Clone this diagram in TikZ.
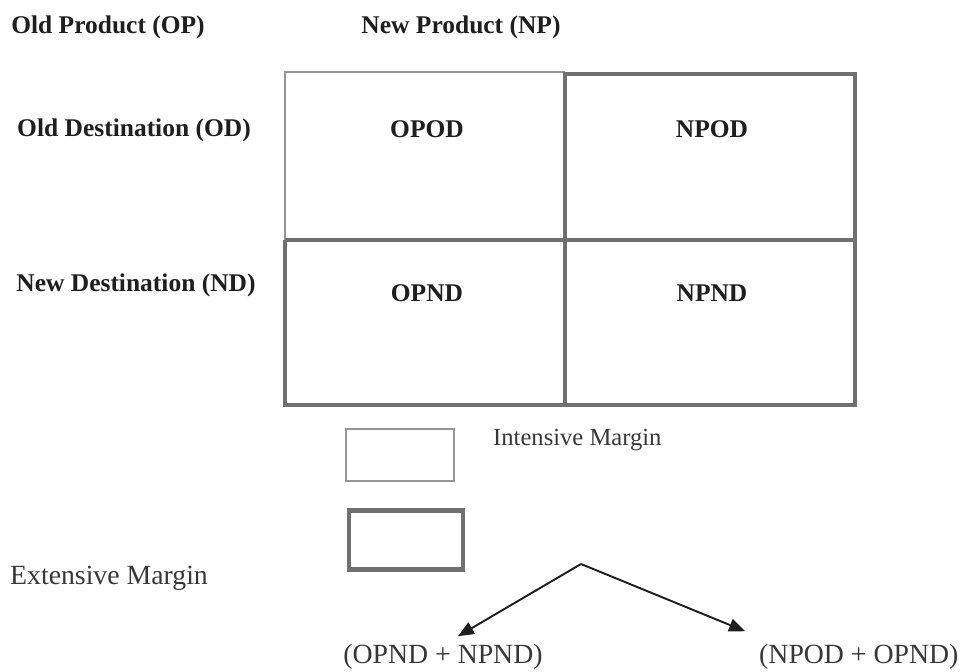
\documentclass[tikz,border=0pt]{standalone}
\usepackage{fontspec}
\setmainfont{Liberation Serif}
\usepackage{xcolor}
\usepackage{tikz}
\usetikzlibrary{shapes,arrows,positioning}
\definecolor{colorGy}{RGB}{112,112,112}
\definecolor{colorLt}{RGB}{150,150,150}
\definecolor{colorTx}{RGB}{30,30,30}
\definecolor{colorRg}{RGB}{55,55,55}
\tikzstyle{lab}=[font=\fontsize{14.5}{17}\selectfont\bfseries, text=colorTx]
\tikzstyle{cell}=[lab]
\tikzstyle{legend}=[font=\fontsize{14}{17}\selectfont, text=colorRg]
\tikzstyle{sumlab}=[font=\fontsize{15.8}{19}\selectfont, text=colorRg]
\tikzstyle{thinline}=[draw=colorLt, line width=0.8pt]
\tikzstyle{thickline}=[draw=colorGy, line width=2.8pt]
\tikzstyle{arr}=[-triangle 45, line width=1.1pt, draw=colorTx]

\begin{document}
\begin{tikzpicture}[x=0.02cm,y=-0.02cm]
\useasboundingbox (0,0) rectangle (960,672);

% headers
\node (titleOP) [lab] at (108,27) {Old Product (OP)};
\node (titleNP) [lab] at (461,27) {New Product (NP)};
\node (titleOD) [lab] at (134,130) {Old Destination (OD)};
\node (titleND) [lab] at (136,285) {New Destination (ND)};

% grid
\draw [thinline] (285,240) -- (285,72) -- (565,72);
\draw [thickline] (285,240) -- (285,405) -- (855,405) -- (855,74) -- (565,74) -- (565,405);
\draw [thickline] (285,240) -- (855,240);

\node (opod) [cell] at (427,129) {OPOD};
\node (npod) [cell] at (712,129) {NPOD};
\node (opnd) [cell] at (427,293) {OPND};
\node (npnd) [cell] at (712,293) {NPND};

% legend
\node (intBox) [thinline, minimum width=2.16cm, minimum height=1.04cm] at (400,455) {};
\node (intLab) [legend, anchor=west] at (487,440) {Intensive Margin};
\node (extBox) [thickline, minimum width=2.28cm, minimum height=1.18cm] at (406,540) {};
\node (extLab) [sumlab, anchor=west] at (4,578) {Extensive Margin};

% sums
\coordinate (apex) at (581,564);
\node (sumND) [sumlab] at (443,657) {(OPND + NPND)};
\node (sumOD) [sumlab, anchor=west] at (753,657) {(NPOD + OPND)};
\draw [arr] (apex) -- ([xshift=0.3cm,yshift=0.04cm]sumND.north);
\draw [arr] (apex) -- ([xshift=-0.16cm,yshift=0.14cm]sumOD.north west);

\end{tikzpicture}
\end{document}
